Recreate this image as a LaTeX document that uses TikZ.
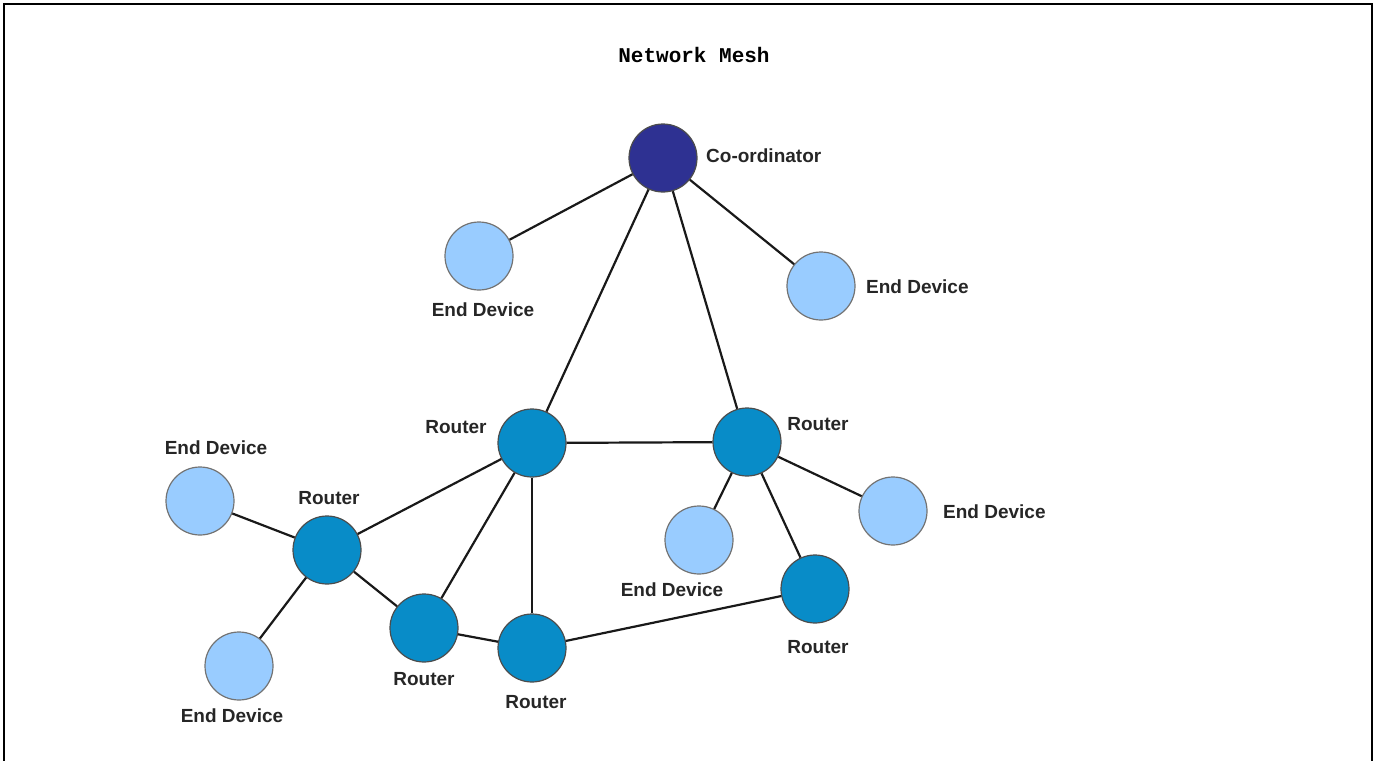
\documentclass[tikz,border=0pt]{standalone}
\usepackage{fontspec}
\setsansfont{Liberation Sans}
\setmonofont{Liberation Mono}
\usetikzlibrary{positioning}
\definecolor{coordblue}{RGB}{46,49,146}
\definecolor{routerblue}{RGB}{8,140,200}
\definecolor{endblue}{RGB}{153,204,255}
\tikzset{
  dev/.style = {circle, draw = black!70, line width = 1.2pt, minimum size = 68pt, inner sep = 0pt},
  coordinator/.style = {dev, fill = coordblue},
  router/.style = {dev, fill = routerblue},
  enddev/.style = {dev, fill = endblue, draw = black!55},
  lbl/.style = {font = \sffamily\bfseries\fontsize{19}{19}\selectfont, text = black!85, inner sep = 0pt},
  link/.style = {draw = black!90, line width = 2.2pt},
}

\begin{document}
\begin{tikzpicture}[x = 1pt, y = -1pt]
    \useasboundingbox (0,0) rectangle (1378,760);
    \draw [line width = 2pt] (4,770) -- (4,4) -- (1372,4) -- (1372,770);
    \node [font = \ttfamily\bfseries\fontsize{21}{21}\selectfont] (title) at (694,55) {Network Mesh};

    % devices
    \node [coordinator] (c0) at (663,158) {};
    \node [enddev] (e1) at (479,256) {};
    \node [enddev] (e2) at (821,286) {};
    \node [router] (r1) at (532,443) {};
    \node [router] (r2) at (747,442) {};
    \node [enddev] (e3) at (200,501) {};
    \node [router] (r3) at (327,550) {};
    \node [enddev] (e4) at (239,666) {};
    \node [router] (r4) at (424,628) {};
    \node [router] (r5) at (532,648) {};
    \node [enddev] (e5) at (699,540) {};
    \node [enddev] (e6) at (893,511) {};
    \node [router] (r6) at (815,589) {};

    % labels
    \node [lbl, anchor = west] (lc0) at (706,156) {Co-ordinator};
    \node [lbl] (le1) at (483,310) {End Device};
    \node [lbl, anchor = west] (le2) at (866,287) {End Device};
    \node [lbl] (lr1) at (456,427) {Router};
    \node [lbl] (lr2) at (818,424) {Router};
    \node [lbl] (le3) at (216,448) {End Device};
    \node [lbl] (lr3) at (329,498) {Router};
    \node [lbl] (le4) at (232,716) {End Device};
    \node [lbl] (lr4) at (424,679) {Router};
    \node [lbl] (lr5) at (536,702) {Router};
    \node [lbl] (le5) at (672,590) {End Device};
    \node [lbl, anchor = west] (le6) at (943,512) {End Device};
    \node [lbl] (lr6) at (818,647) {Router};

    % links
    \draw [link] (c0) -- (e1);
    \draw [link] (c0) -- (e2);
    \draw [link] (c0) -- (r1);
    \draw [link] (c0) -- (r2);
    \draw [link] (r1) -- (r2);
    \draw [link] (r1) -- (r3);
    \draw [link] (r1) -- (r4);
    \draw [link] (r1) -- (r5);
    \draw [link] (r2) -- (e5);
    \draw [link] (r2) -- (e6);
    \draw [link] (r2) -- (r6);
    \draw [link] (r3) -- (e3);
    \draw [link] (r3) -- (e4);
    \draw [link] (r3) -- (r4);
    \draw [link] (r4) -- (r5);
    \draw [link] (r5) -- (r6);
\end{tikzpicture}
\end{document}
